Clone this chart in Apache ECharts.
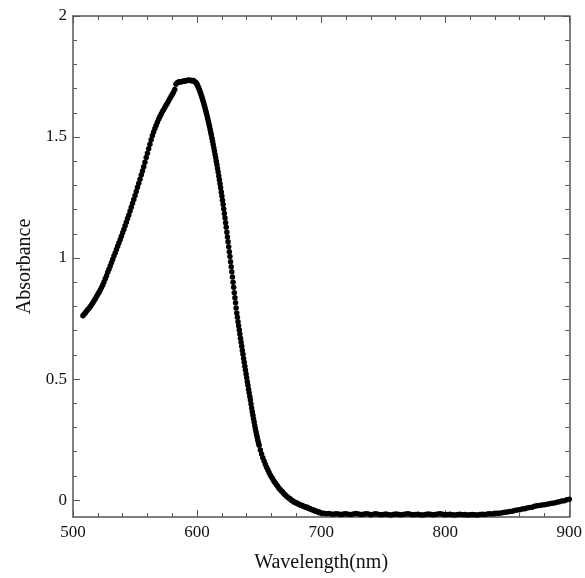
<!DOCTYPE html>
<html>
<head>
<meta charset="utf-8">
<script src="https://cdn.jsdelivr.net/npm/echarts@6/dist/echarts.min.js"></script>
<style>html,body{margin:0;padding:0;background:#fff}#c{width:585px;height:578px}</style>
</head>
<body>
<div id="c"></div>
<script>
// Absorbance readings, segment A: 508..599 nm, 1 nm step
const startA = 508, stepA = 1;
const absA = [
0.761,0.768,0.774,0.781,0.787,0.793,0.800,0.807,0.815,0.823,
0.832,0.841,0.850,0.859,0.868,0.878,0.889,0.901,0.914,0.927,
0.941,0.954,0.967,0.981,0.994,1.008,1.021,1.035,1.049,1.062,
1.076,1.090,1.104,1.118,1.133,1.148,1.163,1.178,1.194,1.210,
1.226,1.242,1.258,1.275,1.292,1.309,1.326,1.343,1.360,1.377,
1.396,1.415,1.433,1.452,1.470,1.489,1.506,1.521,1.535,1.548,
1.561,1.573,1.584,1.594,1.604,1.613,1.622,1.631,1.640,1.649,
1.658,1.667,1.676,1.685,1.696,1.718,1.724,1.727,1.728,1.727,
1.729,1.731,1.730,1.732,1.734,1.736,1.733,1.735,1.731,1.733,
1.729,1.725
];
// Segment B: 599.5..650 nm, 0.5 nm step (steep falling edge)
const startB = 599.5, stepB = 0.5;
const absB = [
1.722,1.717,1.712,1.706,1.700,1.693,1.686,1.679,1.671,1.663,
1.655,1.646,1.637,1.628,1.619,1.609,1.599,1.589,1.578,1.567,
1.556,1.544,1.532,1.520,1.508,1.495,1.482,1.469,1.456,1.442,
1.428,1.414,1.400,1.385,1.370,1.355,1.339,1.323,1.307,1.290,
1.273,1.256,1.239,1.221,1.203,1.184,1.165,1.146,1.127,1.107,
1.087,1.067,1.047,1.026,1.006,0.985,0.964,0.943,0.922,0.900,
0.879,0.857,0.836,0.815,0.794,0.773,0.755,0.737,0.720,0.703,
0.686,0.669,0.652,0.635,0.618,0.602,0.585,0.569,0.553,0.537,
0.521,0.505,0.489,0.474,0.458,0.443,0.428,0.413,0.397,0.380,
0.365,0.350,0.336,0.322,0.308,0.295,0.282,0.270,0.258,0.247,
0.236,0.226
];
// Segment C: 651..700 nm, 1 nm step
const startC = 651, stepC = 1;
const absC = [
0.207,0.190,0.175,0.161,0.148,0.136,0.125,0.114,0.104,0.095,
0.087,0.078,0.071,0.063,0.057,0.049,0.044,0.037,0.033,0.026,
0.022,0.016,0.013,0.007,0.005,-0.001,-0.003,-0.008,-0.009,-0.013,
-0.013,-0.018,-0.019,-0.023,-0.022,-0.027,-0.028,-0.031,-0.030,-0.035,
-0.036,-0.038,-0.041,-0.041,-0.045,-0.046,-0.047,-0.051,-0.050,-0.054
];
// Segment D: 702..900 nm, 2 nm step (baseline tail)
const startD = 702, stepD = 2;
const absD = [
-0.055,-0.057,-0.056,-0.058,-0.059,-0.057,-0.058,-0.060,-0.058,-0.057,
-0.059,-0.060,-0.058,-0.056,-0.058,-0.060,-0.059,-0.057,-0.058,-0.061,
-0.059,-0.057,-0.059,-0.061,-0.060,-0.058,-0.060,-0.062,-0.060,-0.058,
-0.059,-0.061,-0.060,-0.058,-0.057,-0.059,-0.061,-0.060,-0.059,-0.061,
-0.062,-0.060,-0.058,-0.059,-0.061,-0.060,-0.058,-0.057,-0.059,-0.061,
-0.060,-0.059,-0.061,-0.062,-0.060,-0.059,-0.061,-0.060,-0.062,-0.061,
-0.060,-0.061,-0.062,-0.060,-0.059,-0.060,-0.058,-0.057,-0.058,-0.055,
-0.054,-0.055,-0.052,-0.050,-0.049,-0.047,-0.046,-0.043,-0.041,-0.040,
-0.037,-0.036,-0.033,-0.031,-0.030,-0.026,-0.024,-0.023,-0.020,-0.019,
-0.017,-0.015,-0.013,-0.012,-0.009,-0.007,-0.004,-0.003,0.001,0.003
];

const yMajorTicks = [0, 0.5, 1, 1.5, 2];
const yMinorTicks = [0.1,0.2,0.3,0.4,0.6,0.7,0.8,0.9,1.1,1.2,1.3,1.4,1.6,1.7,1.8,1.9];

const points = [];
function addSeg(arr, start, step) {
  arr.forEach(function (v, i) { points.push([start + i * step, v]); });
}
addSeg(absA, startA, stepA);
addSeg(absB, startB, stepB);
addSeg(absC, startC, stepC);
addSeg(absD, startD, stepD);

const FONT = "'Liberation Serif','Times New Roman',serif";
const AXC = '#555';
const lineStyle = { color: AXC, width: 1.5 };
const tickStyle = { color: AXC, width: 1 };

function xAx(pos, labels) {
  return {
    type: 'value', position: pos, min: 500, max: 900, interval: 100,
    axisLine: { show: true, onZero: false, lineStyle: lineStyle },
    axisTick: { show: true, inside: true, length: 7, lineStyle: tickStyle },
    minorTick: { show: true, splitNumber: 5, length: 4, lineStyle: tickStyle },
    axisLabel: { show: labels, color: '#111', fontFamily: FONT, fontSize: 17, margin: 7 },
    splitLine: { show: false },
    name: labels ? 'Wavelength(nm)' : '',
    nameLocation: 'middle', nameGap: 36,
    nameTextStyle: { fontFamily: FONT, fontSize: 20, color: '#111' }
  };
}
function yAx(pos, major, labels) {
  return {
    type: 'value', position: pos, min: -0.07, max: 2,
    axisLine: { show: major, onZero: false, lineStyle: lineStyle },
    axisTick: { show: true, inside: true, length: major ? 7 : 4, lineStyle: tickStyle,
                customValues: major ? yMajorTicks : yMinorTicks },
    axisLabel: { show: labels, customValues: yMajorTicks, color: '#111', fontFamily: FONT, fontSize: 17, margin: 6 },
    splitLine: { show: false },
    name: labels ? 'Absorbance' : '',
    nameLocation: 'middle', nameGap: 36, nameRotate: 90,
    nameTextStyle: { fontFamily: FONT, fontSize: 20, color: '#111' }
  };
}

const chart = echarts.init(document.getElementById('c'), null, { renderer: 'canvas' });
chart.setOption({
  animation: false,
  backgroundColor: '#fff',
  grid: { left: 73, right: 9, top: 16, bottom: 60 },
  xAxis: [xAx('bottom', true), xAx('top', false)],
  yAxis: [yAx('left', true, true), yAx('left', false, false), yAx('right', true, false), yAx('right', false, false)],
  series: [{
    type: 'scatter', xAxisIndex: 0, yAxisIndex: 0,
    symbol: 'circle', symbolSize: 5.5,
    itemStyle: { color: '#000', opacity: 1 },
    data: points
  }]
});
</script>
</body>
</html>
